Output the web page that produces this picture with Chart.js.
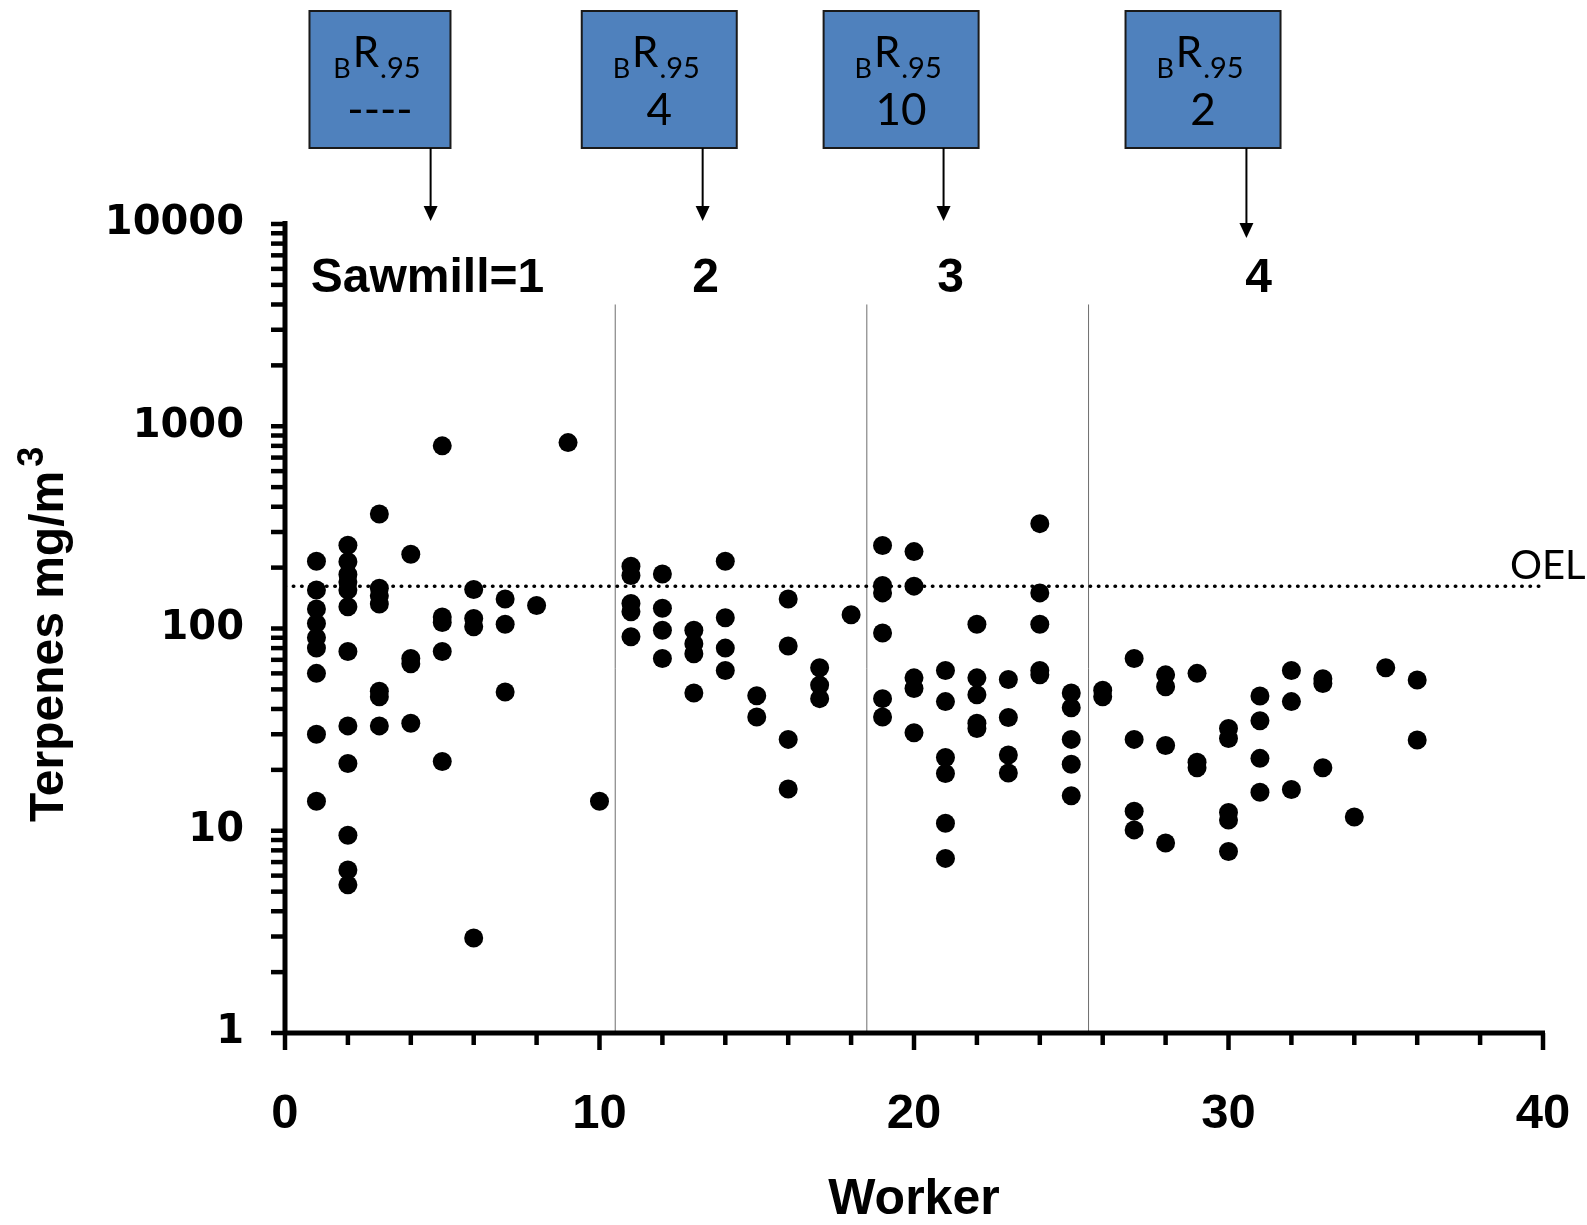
<!DOCTYPE html>
<html>
<head>
<meta charset="utf-8">
<script src="https://cdn.jsdelivr.net/npm/chart.js@4.4.1/dist/chart.umd.min.js"></script>
<style>
  html, body { margin: 0; padding: 0; background: #fff; }
  #wrap { width: 1587px; height: 1225px; }
</style>
</head>
<body>
<div id="wrap"><canvas id="terpChart" width="1587" height="1225"></canvas></div>
<script>
// Terpene exposure per worker (mg/m3), grouped by sawmill
const mill1Workers = [1, 2, 3, 4, 5, 6, 7, 8, 9, 10];
const mill1Values = [
    [215, 155, 125, 106, 90, 80, 60, 30, 14],
    [258, 214, 185, 170, 155, 128, 77, 33, 21.5, 9.5, 6.4, 5.4],
    [368, 158, 145, 132, 49, 46, 33],
    [233, 71, 67, 34],
    [800, 114, 107, 77, 22],
    [156, 112, 102, 2.95],
    [140, 105, 48.5],
    [130],
    [830],
    [14]
];
const mill2Workers = [11, 12, 13, 14, 15, 16, 17, 18];
const mill2Values = [
    [203, 183, 133, 121, 91],
    [186, 126, 98, 71],
    [98, 84, 75, 48],
    [215, 113, 80, 62],
    [46.5, 36.5],
    [140, 82, 28.3, 16.1],
    [64, 52.5, 45],
    [117]
];
const mill3Workers = [19, 20, 21, 22, 23, 24, 25];
const mill3Values = [
    [257, 163, 150, 95, 45, 36.5],
    [240, 162, 57, 50.5, 30.5],
    [62, 43.5, 23, 19.2, 10.9, 7.3],
    [105, 57, 47, 34, 32],
    [56, 36.3, 23.7, 19.3],
    [330, 150, 105, 62, 59],
    [48, 40.6, 28.3, 21.3, 14.9]
];
const mill4Workers = [26, 27, 28, 29, 30, 31, 32, 33, 34, 35, 36];
const mill4Values = [
    [49.5, 46],
    [71, 28.3, 12.5, 10.1],
    [59, 51.5, 26.4, 8.7],
    [60, 21.8, 20.5],
    [32, 28.6, 12.3, 11.3, 7.9],
    [46.4, 35, 22.8, 15.5],
    [62, 43.5, 16],
    [56.5, 53.5, 20.5],
    [11.7],
    [64],
    [55.6, 28.1]
];

const oelValue = 162;
const millBoundaries = [10.5, 18.5, 25.55];
const boundaryTop = 4000;
const millLabels = ['Sawmill=1', '2', '3', '4'];
const millBR95 = ['----', '4', '10', '2'];
const yTickValues = [1, 10, 100, 1000, 10000];

// where the callout boxes / arrows / sawmill labels sit (x in worker units)
const calloutLayout = [
    { boxX: 3.02, boxW: 141, arrowX: 4.63, arrowEnd: 221, labelX: 4.53 },
    { boxX: 11.9, boxW: 155, arrowX: 13.28, arrowEnd: 221, labelX: 13.37 },
    { boxX: 19.59, boxW: 155, arrowX: 20.94, arrowEnd: 221, labelX: 21.16 },
    { boxX: 29.19, boxW: 155, arrowX: 30.57, arrowEnd: 238, labelX: 30.96 }
];

// flatten worker groups into scatter points
const scatterPoints = [];
[[mill1Workers, mill1Values], [mill2Workers, mill2Values],
 [mill3Workers, mill3Values], [mill4Workers, mill4Values]].forEach(([workers, values]) => {
    workers.forEach((w, i) => {
        values[i].forEach(v => scatterPoints.push({ x: w, y: v }));
    });
});

const boundaryDatasets = millBoundaries.map(b => ({
    data: [{ x: b, y: 1 }, { x: b, y: boundaryTop }],
    showLine: true,
    borderColor: '#6e6e6e',
    borderWidth: 1,
    pointRadius: 0,
    order: 3
}));

// axis lines and tick marks
const axesPlugin = {
    id: 'axesPlugin',
    afterDraw(chart) {
        const ctx = chart.ctx;
        const xs = chart.scales.x, ys = chart.scales.y;
        const left = chart.chartArea.left, bottom = chart.chartArea.bottom;
        ctx.save();
        ctx.strokeStyle = '#000';
        ctx.lineCap = 'butt';

        // y minor/major ticks
        ctx.lineWidth = 4.5;
        for (let d = 1; d <= 10000; d *= 10) {
            const mults = d === 10000 ? [1] : [1, 2, 3, 4, 5, 6, 7, 8, 9];
            mults.forEach(m => {
                const py = ys.getPixelForValue(m * d);
                ctx.beginPath();
                ctx.moveTo(left - 14, py);
                ctx.lineTo(left, py);
                ctx.stroke();
            });
        }
        // x ticks
        for (let v = 0; v <= 40; v += 2) {
            const px = xs.getPixelForValue(v);
            const len = v % 10 === 0 ? 17 : 12;
            ctx.beginPath();
            ctx.moveTo(px, bottom);
            ctx.lineTo(px, bottom + len);
            ctx.stroke();
        }
        // axis lines
        ctx.lineWidth = 5;
        ctx.beginPath();
        ctx.moveTo(left, ys.getPixelForValue(10000) - 3);
        ctx.lineTo(left, bottom + 2);
        ctx.stroke();
        ctx.beginPath();
        ctx.moveTo(left - 2, bottom);
        ctx.lineTo(xs.getPixelForValue(40) + 2, bottom);
        ctx.stroke();
        ctx.restore();
    }
};

// callout boxes, arrows, sawmill labels, OEL text and y title
const annotationPlugin = {
    id: 'annotationPlugin',
    afterDraw(chart) {
        const ctx = chart.ctx;
        const xs = chart.scales.x;
        const area = chart.chartArea;
        ctx.save();

        calloutLayout.forEach((c, i) => {
            const cx = xs.getPixelForValue(c.boxX);
            const bx = cx - c.boxW / 2;
            ctx.fillStyle = '#4f81bd';
            ctx.fillRect(bx, 11, c.boxW, 137);
            ctx.strokeStyle = '#1a1a1a';
            ctx.lineWidth = 2;
            ctx.strokeRect(bx, 11, c.boxW, 137);

            // BR.95 with subscripts
            ctx.fillStyle = '#000';
            ctx.textAlign = 'left';
            ctx.textBaseline = 'alphabetic';
            const fB = '27px Lato, "Open Sans", sans-serif';
            const fR = '42px Lato, "Open Sans", sans-serif';
            const f95 = '29px Lato, "Open Sans", sans-serif';
            ctx.font = fB; const wB = ctx.measureText('B').width;
            ctx.font = fR; const wR = ctx.measureText('R').width;
            ctx.font = f95; const w95 = ctx.measureText('.95').width;
            let tx = cx - (wB + wR + w95 + 3) / 2 - 3;
            ctx.font = fB; ctx.fillText('B', tx, 78); tx += wB + 2;
            ctx.font = fR; ctx.fillText('R', tx, 67); tx += wR + 1;
            ctx.font = f95; ctx.fillText('.95', tx, 78);

            ctx.font = '44px Lato, "Open Sans", sans-serif';
            ctx.textAlign = 'center';
            ctx.fillText(millBR95[i], cx, 125);

            // arrow
            const ax = xs.getPixelForValue(c.arrowX);
            ctx.strokeStyle = '#000';
            ctx.lineWidth = 2;
            ctx.beginPath();
            ctx.moveTo(ax, 148);
            ctx.lineTo(ax, c.arrowEnd - 12);
            ctx.stroke();
            ctx.beginPath();
            ctx.moveTo(ax - 7, c.arrowEnd - 15);
            ctx.lineTo(ax + 7, c.arrowEnd - 15);
            ctx.lineTo(ax, c.arrowEnd);
            ctx.closePath();
            ctx.fill();

            // sawmill label
            ctx.font = 'bold 48px "Liberation Sans", Arial, sans-serif';
            ctx.textAlign = 'center';
            ctx.fillText(millLabels[i], xs.getPixelForValue(c.labelX), 292);
        });

        // OEL label
        ctx.font = '40px Lato, "Open Sans", sans-serif';
        ctx.textAlign = 'left';
        ctx.fillText('OEL', area.right - 33, 579);

        // y axis title with superscript
        ctx.translate(63, 0);
        ctx.rotate(-Math.PI / 2);
        const fMain = 'bold 48px "Liberation Sans", Arial, sans-serif';
        const fSup = 'bold 36px "Liberation Sans", Arial, sans-serif';
        ctx.font = fMain; const w1 = ctx.measureText('Terpenes mg/m').width;
        const sx = -822;
        ctx.font = fMain; ctx.fillText('Terpenes mg/m', sx, 0);
        ctx.font = fSup; ctx.fillText('3', sx + w1 + 4, -20);
        ctx.restore();
    }
};

Chart.defaults.color = '#000';

new Chart(document.getElementById('terpChart'), {
    type: 'scatter',
    data: {
        datasets: [
            {
                label: 'Terpenes',
                data: scatterPoints,
                backgroundColor: '#000',
                borderWidth: 0,
                pointRadius: 9.5,
                order: 0
            },
            {
                label: 'OEL',
                data: [{ x: 0, y: oelValue }, { x: 40, y: oelValue }],
                showLine: true,
                borderColor: '#000',
                borderWidth: 3.5,
                borderDash: [0.5, 7.8],
                borderCapStyle: 'round',
                pointRadius: 0,
                order: 1
            },
            ...boundaryDatasets
        ]
    },
    options: {
        responsive: false,
        animation: false,
        devicePixelRatio: 1,
        layout: { padding: { top: 224, right: 44, left: 0, bottom: 0 } },
        plugins: {
            legend: { display: false },
            tooltip: { enabled: false }
        },
        scales: {
            x: {
                type: 'linear',
                min: 0,
                max: 40,
                grid: { display: false, drawTicks: false },
                border: { display: false },
                ticks: {
                    stepSize: 10,
                    maxRotation: 0,
                    padding: 52,
                    font: { family: '"Liberation Sans", Arial, sans-serif', size: 49, weight: 'bold' }
                },
                title: {
                    display: true,
                    text: 'Worker',
                    padding: 0,
                    font: { family: '"Liberation Sans", Arial, sans-serif', size: 50, weight: 'bold', lineHeight: 1 }
                },
                afterFit: s => {
                    s.height = 192;
                    s.paddingLeft = 0;
                    s.paddingRight = 0;
                }
            },
            y: {
                type: 'logarithmic',
                min: 1,
                max: 10000,
                grid: { display: false, drawTicks: false },
                border: { display: false },
                afterBuildTicks: s => { s.ticks = yTickValues.map(v => ({ value: v, major: true })); },
                ticks: {
                    padding: 41,
                    callback: v => String(v),
                    font: { family: '"DejaVu Sans", sans-serif', size: 40, weight: 'bold' }
                },
                afterFit: s => {
                    s.width = 285;
                    s.paddingTop = 0;
                    s.paddingBottom = 0;
                }
            }
        }
    },
    plugins: [axesPlugin, annotationPlugin]
});
</script>
</body>
</html>
